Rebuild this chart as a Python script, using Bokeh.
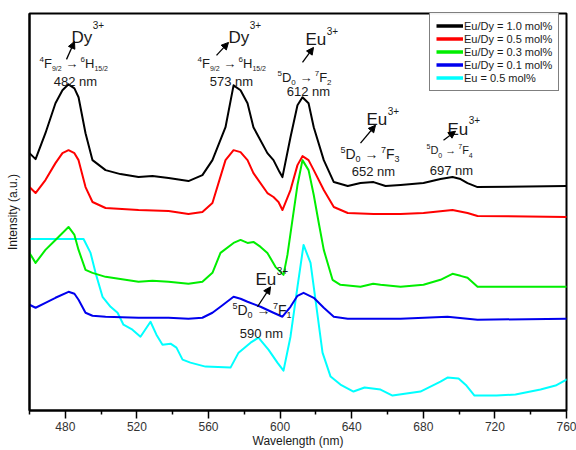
import math
from bokeh.plotting import figure
from bokeh.models import (Range1d, FixedTicker, Label, Arrow, NormalHead,
                          Legend, LegendItem)
from bokeh.embed import file_html
from bokeh.resources import INLINE

# ---------------- data ----------------
black_wl = [460, 463.4, 468.9, 474.5, 478.4, 481.8, 485.1, 487.4, 491.3, 495.2,
            502.5, 510.8, 520.9, 528.7, 537.7, 548.8, 556.6, 562.2, 569.5, 574.0,
            577.9, 581.8, 585.1, 592.9, 596.3, 599.7, 601.3, 605.8, 609.7, 612.5,
            615.9, 618.8, 624.4, 630.0, 637.8, 644.9, 652.2, 658.9, 667.3, 680.1,
            689.6, 696.3, 700.8, 704.7, 710.3, 760]
black_int = [258, 252, 278, 308, 321, 327, 323, 314, 278, 251,
             241, 237, 234, 235, 233, 230, 236, 251, 284, 326,
             321, 308, 284, 258, 251, 239, 234, 274, 306, 314,
             308, 284, 251, 229, 225, 228, 229, 225, 226, 228,
             232, 234, 232, 228, 224, 225]

red_wl = [460, 463.4, 468.9, 474.5, 478.4, 481.8, 485.1, 487.4, 491.3, 495.2,
          502.5, 520.9, 537.7, 548.8, 556.6, 562.2, 569.5, 574.0, 577.9, 581.8,
          585.1, 592.9, 596.3, 599.1, 601.3, 605.8, 609.7, 612.5, 615.9, 618.8,
          624.4, 630.0, 637.8, 652.2, 667.3, 680.1, 696.3, 704.7, 710.3, 760]
red_int = [224, 218, 231, 248, 258, 261, 258, 251, 224, 209,
           203, 201, 200, 197, 199, 208, 251, 261, 259, 251,
           238, 218, 214, 209, 201, 221, 246, 255, 251, 241,
           221, 204, 198, 197, 197, 198, 201, 198, 195, 194]

green_wl = [460, 463.4, 468.9, 474.5, 481.8, 485.1, 487.4, 491.3, 495.2, 502.5,
            520.9, 528.7, 537.7, 548.8, 556.6, 562.2, 566.7, 574.0, 577.9, 581.8,
            585.1, 589.1, 592.9, 597.4, 601.9, 604.1, 606.9, 609.7, 612.5, 615.9,
            618.8, 621.5, 624.4, 629.3, 633.7, 644.9, 652.0, 656.1, 667.3, 680.1,
            689.6, 696.3, 700.8, 704.7, 710.3, 760]
green_int = [158, 148, 161, 171, 184, 176, 161, 141, 138, 134,
             129, 130, 129, 127, 129, 138, 158, 168, 171, 168,
             169, 164, 158, 144, 136, 156, 191, 226, 251, 241,
             216, 189, 161, 131, 126, 124, 127, 126, 124, 126,
             131, 137, 135, 133, 124, 124]

blue_wl = [460, 463.4, 468.9, 474.5, 481.8, 485.1, 487.4, 491.3, 495.2, 502.5,
           520.9, 537.7, 548.8, 556.6, 562.2, 566.7, 574.0, 577.9, 581.8, 589.1,
           596.3, 601.3, 605.8, 609.7, 613.1, 618.8, 624.4, 630.0, 637.8, 667.3,
           693.5, 710.3, 760]
blue_int = [106, 103, 108, 113, 119, 117, 111, 98, 95, 94,
            93, 93, 92, 93, 98, 104, 114, 112, 109, 104,
            98, 94, 104, 115, 118, 113, 103, 94, 92, 92,
            94, 91, 92]

cyan_wl = [460, 490.2, 494.1, 496.9, 500.8, 505.3, 509.2, 512.5, 517.5, 522.0,
           527.6, 530.9, 534.3, 538.8, 542.1, 545.5, 549.9, 558.3, 572.3, 576.8,
           583.5, 587.9, 593.5, 598.5, 601.9, 605.8, 609.7, 613.1, 617.0, 620.3,
           623.7, 628.2, 633.7, 641.0, 647.2, 656.1, 662.8, 678.4, 689.6, 693.5,
           699.7, 704.1, 708.6, 720.9, 731.5, 745.5, 753.9, 760]
cyan_int = [172, 172, 158, 138, 114, 104, 98, 86, 81, 74,
            89, 76, 66, 67, 63, 51, 48, 44, 43, 58,
            68, 73, 61, 48, 40, 74, 124, 166, 148, 104,
            58, 34, 26, 19, 23, 21, 15, 19, 29, 33,
            32, 25, 15, 15, 16, 21, 25, 31]

series_labels = ["Eu/Dy = 1.0 mol%", "Eu/Dy = 0.5 mol%", "Eu/Dy = 0.3 mol%",
                 "Eu/Dy = 0.1 mol%", "Eu = 0.5 mol%"]
series_colors = ["#000000", "#ff0000", "#00ee00", "#0000ee", "#00ffff"]

major_ticks = [480, 520, 560, 600, 640, 680, 720, 760]
minor_ticks = [460, 500, 540, 580, 620, 660, 700, 740]

FONT = "Liberation Sans"
TXT = "#1a1a1a"

# ---------------- figure ----------------
p = figure(width=576, height=450, x_range=Range1d(460, 760), y_range=Range1d(0, 398),
           output_backend="svg", toolbar_location=None,
           min_border_left=29, min_border_right=10, min_border_top=13, min_border_bottom=39)
p.xgrid.visible = False
p.ygrid.visible = False
p.outline_line_color = "black"
p.outline_line_width = 2
p.background_fill_color = "white"
p.border_fill_color = "white"

xa = p.xaxis[0]
xa.ticker = FixedTicker(ticks=major_ticks, minor_ticks=minor_ticks)
xa.axis_line_width = 2
xa.axis_line_color = "black"
xa.major_tick_out = 8
xa.major_tick_in = 0
xa.minor_tick_out = 4
xa.minor_tick_in = 0
xa.major_tick_line_width = 1.5
xa.minor_tick_line_width = 1.5
xa.major_label_standoff = 3
xa.major_label_text_font = FONT
xa.major_label_text_font_size = "12px"
xa.major_label_text_color = "#333333"
xa.axis_label = "Wavelength (nm)"
xa.axis_label_standoff = 0
xa.axis_label_text_font = FONT
xa.axis_label_text_font_size = "12px"
xa.axis_label_text_font_style = "normal"
xa.axis_label_text_color = TXT

ya = p.yaxis[0]
ya.ticker = FixedTicker(ticks=[])
ya.axis_line_width = 2
ya.axis_line_color = "black"
ya.major_tick_out = 0
ya.minor_tick_out = 0
ya.major_label_text_font_size = "0px"
ya.axis_label = "Intensity (a.u.)"
ya.axis_label_standoff = 10
ya.axis_label_text_font = FONT
ya.axis_label_text_font_size = "12px"
ya.axis_label_text_font_style = "normal"
ya.axis_label_text_color = TXT

wls = [black_wl, red_wl, green_wl, blue_wl, cyan_wl]
ints = [black_int, red_int, green_int, blue_int, cyan_int]
for i in [4, 3, 2, 1, 0]:
    p.line(wls[i], ints[i], line_color=series_colors[i], line_width=2,
           line_join="round", line_cap="round")

# legend (thicker sample lines; these renderers lie outside the visible range)
items = []
for i, lab in enumerate(series_labels):
    r = p.line([900, 901], [-50, -50], line_color=series_colors[i], line_width=3.5)
    items.append(LegendItem(label=lab, renderers=[r]))
legend = Legend(items=items, location=(400, 319), margin=0, padding=6, spacing=0,
                border_line_color="black", border_line_width=1,
                label_text_font=FONT, label_text_font_size="11px", label_text_color=TXT,
                glyph_width=27, glyph_height=13, label_height=13, label_standoff=1)
p.add_layout(legend)

# ---------------- annotations ----------------
TEXT_SHIFT = -3

def X(ix):
    return 460 + (ix - 29) / 1.79

def Y(iy):
    return 411 - iy

WID = {c: 556 for c in "0123456789"}
WID.update({'F': 611, 'H': 722, 'D': 722, 'E': 667, 'u': 556, 'y': 500, '/': 278,
            ' ': 278, '+': 584, 'n': 556, 'm': 833, '\u2192': 900})

def width(s, size):
    return sum(WID.get(c, 556) for c in s) * size / 1000.0

def put(ix, iy, text, size, align="left"):
    p.add_layout(Label(x=X(ix), y=Y(iy + TEXT_SHIFT), text=text, text_font=FONT,
                       text_font_size=f"{size}px", text_color=TXT,
                       text_baseline="alphabetic", text_align=align))

def rich(ix, iy, pieces):
    x = ix
    for text, size, shift in pieces:
        lead = len(text) - len(text.lstrip(" "))
        put(x + width(" " * lead, size), iy + shift, text.strip(" "), size)
        x += width(text, size)

def ion(ix, iy, name, sup_shift):
    put(ix, iy, name, 17)
    put(ix + width(name, 17) + 0.5, iy + sup_shift, "3+", 10)

def dy_trans(ix, iy):
    rich(ix, iy, [("4", 8, -4), ("F", 13, 0), ("9/2", 7, 5), (" \u2192 ", 13, 0),
                  ("6", 8, -4), ("H", 13, 0), ("15/2", 7, 5)])

def eu_trans(ix, iy, j, main, small):
    rich(ix, iy, [("5", small, -4), ("D", main, 0), ("0", small, 5), (" \u2192 ", main, 0),
                  ("7", small, -4), ("F", main, 0), (j, small, 5)])

def arrow(x0, y0, x1, y1):
    p.add_layout(Arrow(end=NormalHead(size=7, fill_color="black", line_color="black"),
                       x_start=X(x0), y_start=Y(y0), x_end=X(x1), y_end=Y(y1),
                       line_color="black", line_width=1.3))

# 482 nm
ion(71, 40, "Dy", -12)
arrow(66, 59, 74, 41)
dy_trans(39, 66)
put(75, 84, "482 nm", 13, "center")
# 573 nm
ion(228, 40, "Dy", -12)
arrow(216, 55, 228, 42)
dy_trans(197, 66)
put(231, 84, "573 nm", 13, "center")
# 612 nm
ion(305, 42, "Eu", -8)
arrow(302, 62, 313, 47)
eu_trans(277, 80, "2", 13, 8)
put(308, 94, "612 nm", 13, "center")
# 652 nm
ion(366, 122, "Eu", -8)
arrow(360, 143, 375, 125)
eu_trans(340, 157, "3", 14, 9)
put(373, 174, "652 nm", 13, "center")
# 697 nm
ion(447, 132, "Eu", -9)
arrow(443, 140, 455, 131)
eu_trans(426, 153, "4", 11, 7)
put(451, 173, "697 nm", 13, "center")
# 590 nm
ion(255, 283, "Eu", -9)
arrow(257, 307, 270, 287)
eu_trans(232, 313, "1", 14, 9)
put(261, 337, "590 nm", 13, "center")

open("out.html", "w").write(file_html(p, INLINE))
